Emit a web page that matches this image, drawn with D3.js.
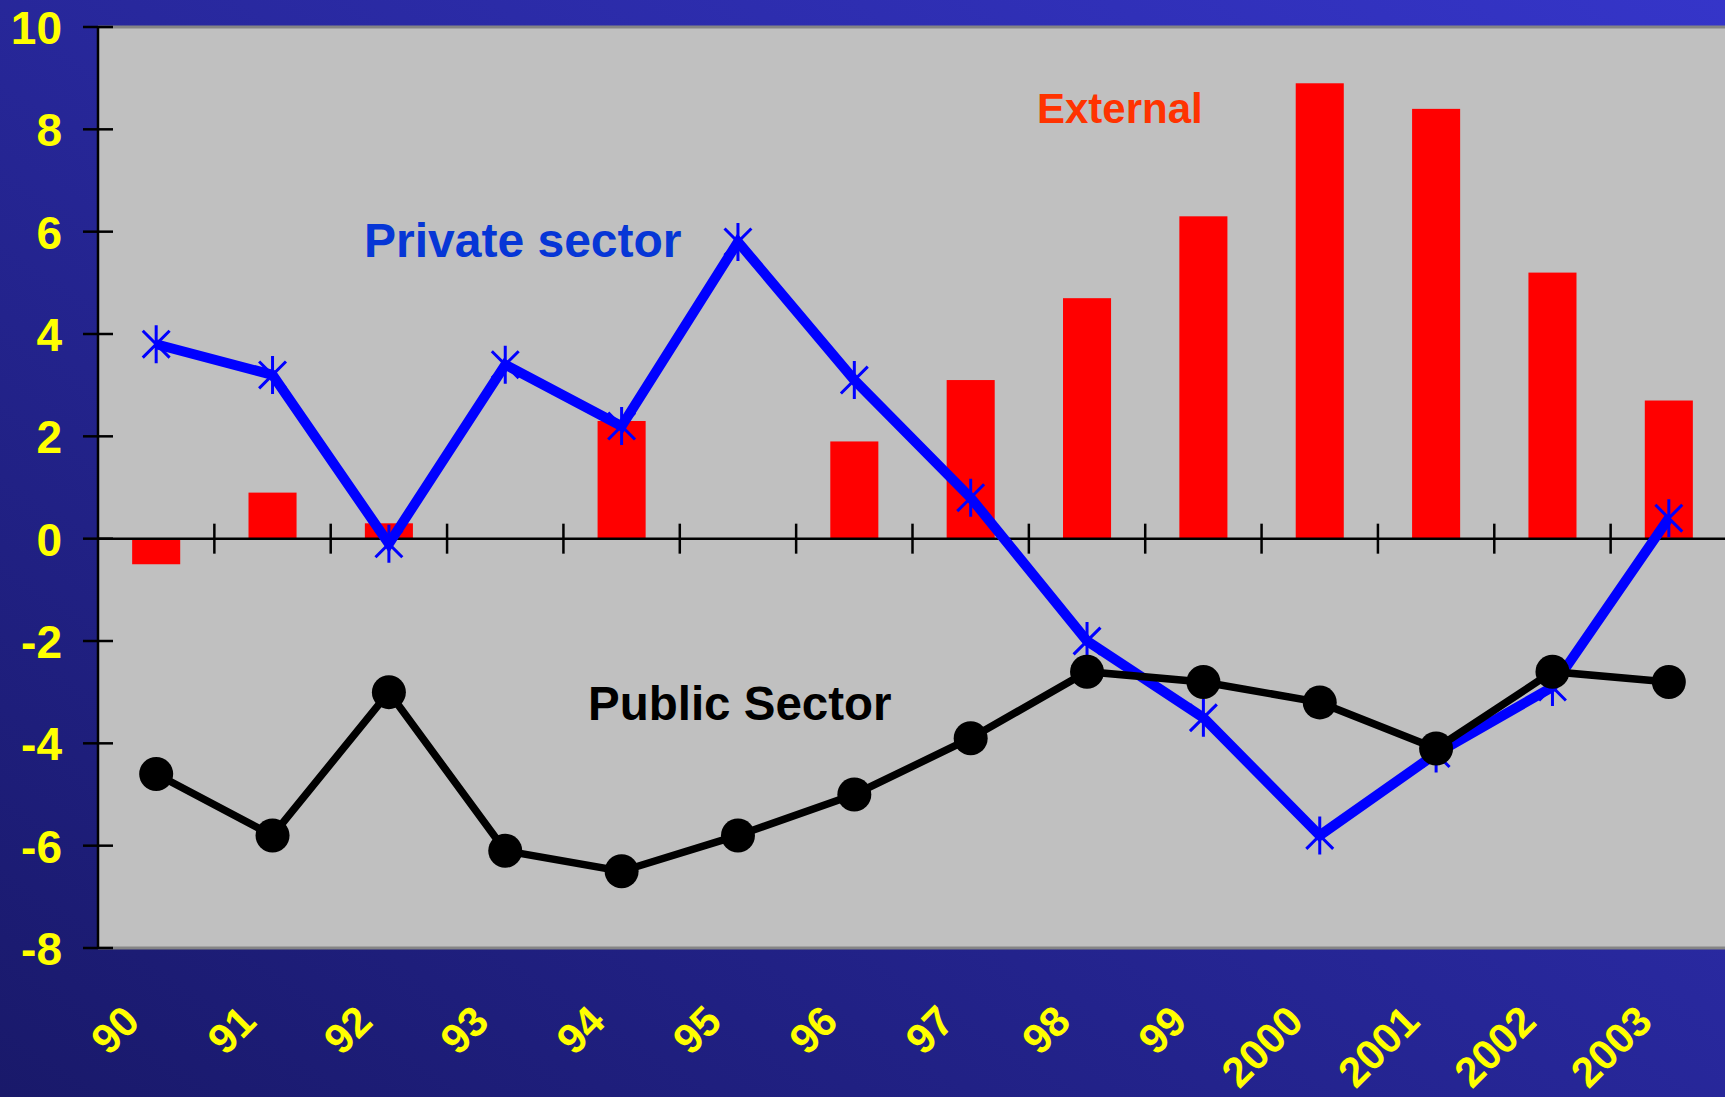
<!DOCTYPE html>
<html>
<head>
<meta charset="utf-8">
<script src="https://cdn.jsdelivr.net/npm/d3@7"></script>
<style>
  html, body { margin: 0; padding: 0; overflow: hidden; }
  svg { display: block; font-family: "Liberation Sans", Arial, sans-serif; font-weight: bold; }
</style>
</head>
<body>
<script>
// Balances by sector, % of GDP
const years = ["90", "91", "92", "93", "94", "95", "96", "97", "98", "99", "2000", "2001", "2002", "2003"];
const external = [-0.5, 0.9, 0.3, null, 2.3, null, 1.9, 3.1, 4.7, 6.3, 8.9, 8.4, 5.2, 2.7];
const privateSector = [3.8, 3.2, -0.1, 3.4, 2.2, 5.8, 3.1, 0.8, -2.0, -3.5, -5.8, -4.2, -2.9, 0.4];
const publicSector = [-4.6, -5.8, -3.0, -6.1, -6.5, -5.8, -5.0, -3.9, -2.6, -2.8, -3.2, -4.1, -2.6, -2.8];
const yTicks = [-8, -6, -4, -2, 0, 2, 4, 6, 8, 10];

const W = 1725, H = 1097;
const plot = { left: 98, right: 1727, top: 27, bottom: 948 };

const svg = d3.select("body").append("svg").attr("width", W).attr("height", H);

// Background gradient
const defs = svg.append("defs");
const grad = defs.append("linearGradient").attr("id", "bg")
  .attr("x1", "0").attr("y1", "1").attr("x2", "1").attr("y2", "0");
grad.append("stop").attr("offset", "0").attr("stop-color", "#19196a");
grad.append("stop").attr("offset", "1").attr("stop-color", "#3535c9");
svg.append("rect").attr("width", W).attr("height", H).attr("fill", "url(#bg)");

const x = d3.scaleBand().domain(years).range([plot.left, plot.right]).padding(0);
const y = d3.scaleLinear().domain([-8, 10]).range([plot.bottom, plot.top]);
const bw = x.bandwidth();
const cx = d => x(d) + bw / 2;

// Plot area
svg.append("rect")
  .attr("x", plot.left).attr("y", y(10))
  .attr("width", W - plot.left).attr("height", y(-8) - y(10))
  .attr("fill", "#c0c0c0");
[y(10), y(-8)].forEach(py => {
  svg.append("line").attr("x1", plot.left).attr("x2", W).attr("y1", py).attr("y2", py)
    .attr("stroke", "#858585").attr("stroke-width", 3);
});

// External balance bars
const barW = bw * 0.413;
svg.append("g").selectAll("rect")
  .data(years.map((yr, i) => ({ yr, v: external[i] })).filter(d => d.v !== null))
  .join("rect")
  .attr("x", d => cx(d.yr) - barW / 2)
  .attr("width", barW)
  .attr("y", d => y(Math.max(0, d.v)))
  .attr("height", d => Math.abs(y(d.v) - y(0)))
  .attr("fill", "#ff0000");

// Zero line with category dividers
const zeroY = y(0);
svg.append("line").attr("x1", plot.left).attr("x2", W).attr("y1", zeroY).attr("y2", zeroY)
  .attr("stroke", "#000").attr("stroke-width", 2.5);
svg.append("g").selectAll("line")
  .data(years.slice(1))
  .join("line")
  .attr("x1", d => x(d)).attr("x2", d => x(d))
  .attr("y1", zeroY - 15).attr("y2", zeroY + 15)
  .attr("stroke", "#000").attr("stroke-width", 2.5);

// Y axis
const yAxis = d3.axisLeft(y).tickValues(yTicks).tickFormat(d => String(d)).tickSize(0).tickPadding(0);
const ya = svg.append("g").attr("transform", `translate(${plot.left},0)`).call(yAxis);
ya.select(".domain").remove();
ya.selectAll(".tick line").remove();
svg.append("line").attr("x1", plot.left).attr("x2", plot.left)
  .attr("y1", y(10)).attr("y2", y(-8)).attr("stroke", "#000").attr("stroke-width", 2.5);
svg.append("g").selectAll("line").data(yTicks).join("line")
  .attr("x1", plot.left - 15).attr("x2", plot.left + 15)
  .attr("y1", d => y(d)).attr("y2", d => y(d))
  .attr("stroke", "#000").attr("stroke-width", 2.5);
ya.selectAll(".tick text")
  .attr("x", 62 - plot.left)
  .attr("dy", "0.36em")
  .attr("fill", "#ffff00")
  .attr("font-size", 46)
  .attr("font-weight", "bold")
  .attr("font-family", "'Liberation Sans', Arial, sans-serif")
  .attr("text-anchor", "end");

// X labels, rotated
svg.append("g").selectAll("text").data(years).join("text")
  .attr("transform", d => `translate(${cx(d) - 25},1013) rotate(-45)`)
  .attr("text-anchor", "end")
  .attr("dy", "0.36em")
  .attr("fill", "#ffff00")
  .attr("font-size", 42)
  .text(d => d);

// Private sector line
const privPts = years.map((yr, i) => [cx(yr), y(privateSector[i])]);
svg.append("path")
  .attr("d", d3.line()(privPts))
  .attr("fill", "none").attr("stroke", "#0000ff").attr("stroke-width", 10)
  .attr("stroke-linejoin", "miter");
const star = svg.append("g");
const r = 19;
privPts.forEach(([px, py]) => {
  const k = r * Math.SQRT1_2;
  star.append("path")
    .attr("d", `M${px},${py - r}L${px},${py + r}M${px - k},${py - k}L${px + k},${py + k}M${px - k},${py + k}L${px + k},${py - k}`)
    .attr("stroke", "#0000ff").attr("stroke-width", 3).attr("fill", "none");
});

// Public sector line
const pubPts = years.map((yr, i) => [cx(yr), y(publicSector[i])]);
svg.append("path")
  .attr("d", d3.line()(pubPts))
  .attr("fill", "none").attr("stroke", "#000").attr("stroke-width", 7.5);
svg.append("g").selectAll("circle").data(pubPts).join("circle")
  .attr("cx", d => d[0]).attr("cy", d => d[1]).attr("r", 17).attr("fill", "#000");

// Series labels
svg.append("text").attr("x", 1037).attr("y", 123).attr("font-size", 42)
  .attr("fill", "#ff3300").text("External");
svg.append("text").attr("x", 364).attr("y", 257).attr("font-size", 48)
  .attr("fill", "#0636d6").text("Private sector");
svg.append("text").attr("x", 588).attr("y", 720).attr("font-size", 47.5)
  .attr("fill", "#000").text("Public Sector");
</script>
</body>
</html>
